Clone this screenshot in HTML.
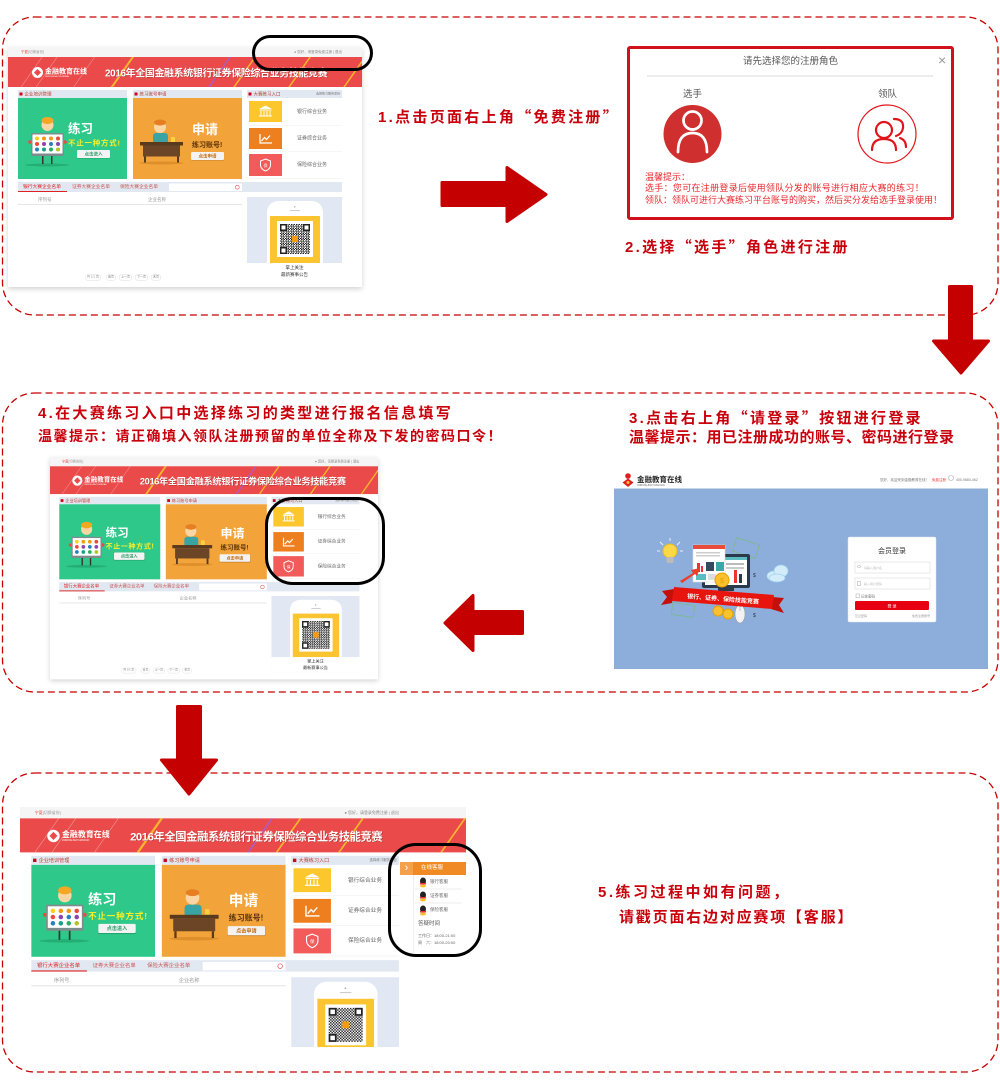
<!DOCTYPE html>
<html><head><meta charset="utf-8">
<style>
html,body{margin:0;padding:0;background:#fff;}
body{width:1000px;height:1080px;position:relative;overflow:hidden;font-family:"Liberation Sans","Noto Sans CJK SC",sans-serif;}
.abs{position:absolute;}
.tx{position:absolute;white-space:nowrap;line-height:1;}
.q{font-family:"Noto Sans CJK SC",sans-serif;}
.step{position:absolute;color:#c9000b;font-family:"Liberation Sans","Noto Sans CJK SC",sans-serif;font-weight:bold;white-space:nowrap;font-size:15px;line-height:18px;letter-spacing:2.3px;}
.mp{position:absolute;background:#fff;overflow:hidden;transform-origin:0 0;box-shadow:0 4px 10px rgba(0,0,0,.18);font-family:"Liberation Sans","Noto Sans CJK SC",sans-serif;}
.mp div{position:absolute;}
.mp i{font-style:normal;}
.mp b{position:absolute;left:3px;top:5px;width:6px;height:6px;background:#d0021b;}
.hd{top:86px;height:16px;background:#e1e8f2;font-size:9px;color:#c0392b;line-height:16px;padding-left:13px;box-sizing:border-box;white-space:nowrap;}
.st{top:-15px;width:1px;height:95px;background:rgba(255,255,255,.45);transform:rotate(35deg);}
.lb{left:548px;width:120px;text-align:center;font-size:10px;color:#666;}
.sep{left:482px;width:186px;height:1px;background:#eee;}
.fd{width:14px;height:14px;border:3px solid #222;background:#fff;box-sizing:border-box;}
.pg{top:455px;height:10px;border:1px solid #ddd;border-radius:5px;font-size:6px;color:#888;line-height:9px;padding:0 3px;white-space:nowrap;}
.bt{height:16px;background:#f3f3f3;border-radius:2px;font-size:9px;line-height:16px;text-align:center;font-weight:bold;box-shadow:0 1px 1px rgba(0,0,0,.2);}
</style></head><body>

<!-- dashed frames -->
<svg class="abs" style="left:0;top:0" width="1000" height="1080">
<g fill="none" stroke="#c80000" stroke-width="1.3" stroke-dasharray="7 4">
<rect x="2.5" y="17" width="995.5" height="298" rx="32"/>
<rect x="2.5" y="393" width="995.5" height="299" rx="32"/>
<rect x="2.5" y="773" width="995.5" height="299" rx="32"/>
</g>
</svg>

<!-- ============ MINI PAGE 1 ============ -->
<div class="mp" style="left:8px;top:47px;width:708px;height:480px;transform:scale(.5)">
<div style="left:0;top:0;width:100%;height:20px;background:#f5f5f5"></div>
<div class="tx" style="left:26px;top:7px;font-size:7px;color:#999"><i style="color:#e33">宁夏</i>[切换省份]</div>
<div class="tx" style="left:572px;top:7px;font-size:7px;color:#888">● 您好，请登录免费注册 | 退出</div>
<div style="left:0;top:20px;width:100%;height:60px;background:#eb4a4a;overflow:hidden">
 <div class="st" style="left:45px"></div><div class="st" style="left:75px"></div><div class="st" style="left:150px"></div>
 <div class="st" style="left:225px;background:#f7b52c;width:4px"></div>
 <div class="st" style="left:420px;background:#b05ac0;width:3px"></div>
 <div class="st" style="left:470px;background:#f7b52c;width:3px"></div>
 <div class="st" style="left:580px;background:#f7b52c;width:3px"></div>
 <div class="st" style="left:690px;background:#f7b52c;width:3px"></div>
 <div style="left:48px;top:20px;width:22px;height:22px;border-radius:50%;background:#fff"></div>
 <div style="left:54px;top:26px;width:10px;height:10px;background:#eb4a4a;transform:rotate(45deg)"></div>
 <div class="tx" style="left:74px;top:21px;font-size:14px;font-weight:bold;color:#fff">金融教育在线</div>
 <div class="tx" style="left:74px;top:37px;font-size:4px;color:#fff">JINRONGJIAOYUZAIXIAN</div>
 <div class="tx" style="left:194px;top:23px;font-size:20px;font-weight:bold;color:#fff;letter-spacing:-.8px;text-shadow:1px 1px 0 #b02a2a">2016年全国金融系统银行证券保险综合业务技能竞赛</div>
</div>
<div class="hd" style="left:20px;width:218px"><b></b>企业培训管理</div>
<div class="hd" style="left:250px;width:218px"><b></b>练习账号申请</div>
<div class="hd" style="left:478px;width:190px"><b></b>大赛练习入口<i style="position:absolute;right:4px;font-size:6px;color:#777">选择练习服务项目</i></div>
<div style="left:20px;top:102px;width:218px;height:162px;background:#2ec98a">
 <svg style="position:absolute;left:0;top:0" width="218" height="162">
  <ellipse cx="58" cy="134" rx="44" ry="3" fill="#25ad76"/>
  <rect x="48" y="114" width="3" height="18" fill="#333"/><rect x="66" y="114" width="3" height="18" fill="#333"/>
  <circle cx="59" cy="54" r="12" fill="#fcd5a5"/><ellipse cx="59" cy="45" rx="12" ry="7" fill="#f5a623"/>
  <circle cx="24" cy="88" r="3.5" fill="#e74c3c"/><circle cx="94" cy="88" r="3.5" fill="#e74c3c"/>
  <rect x="26" y="70" width="66" height="46" rx="3" fill="#7f8c8d"/><rect x="29" y="73" width="60" height="38" fill="#fff"/>
  <circle cx="38" cy="81" r="4" fill="#f7d21c"/><circle cx="52" cy="81" r="4" fill="#f39c12"/><circle cx="66" cy="81" r="4" fill="#f39c12"/><circle cx="80" cy="81" r="4" fill="#e74c3c"/>
  <circle cx="38" cy="92" r="4" fill="#e74c3c"/><circle cx="52" cy="92" r="4" fill="#8e44ad"/><circle cx="66" cy="92" r="4" fill="#2980b9"/><circle cx="80" cy="92" r="4" fill="#8e44ad"/>
  <circle cx="38" cy="103" r="4" fill="#2980b9"/><circle cx="52" cy="103" r="4" fill="#16a085"/><circle cx="66" cy="103" r="4" fill="#27ae60"/><circle cx="80" cy="103" r="4" fill="#b5c42a"/>
 </svg>
 <div class="tx" style="left:100px;top:50px;font-size:25px;font-weight:bold;color:#fff">练习</div>
 <div class="tx" style="left:100px;top:83px;font-size:15px;font-weight:bold;color:#f7ee2a;letter-spacing:1.5px">不止一种方式!</div>
 <div class="bt" style="left:118px;top:104px;width:66px;color:#2a9d6a">点击进入</div>
</div>
<div style="left:250px;top:102px;width:218px;height:162px;background:#f2a33a">
 <svg style="position:absolute;left:0;top:0" width="218" height="162">
  <ellipse cx="57" cy="130" rx="44" ry="3" fill="#dd8f2a"/>
  <rect x="40" y="70" width="30" height="22" rx="6" fill="#3aa3a3"/>
  <circle cx="54" cy="58" r="12" fill="#fcd5a5"/><ellipse cx="54" cy="49" rx="12" ry="6" fill="#e67e22"/>
  <rect x="76" y="78" width="8" height="10" fill="#f7d23a"/>
  <rect x="14" y="88" width="86" height="7" fill="#5a3a1e"/><rect x="20" y="95" width="74" height="22" fill="#6b4526"/>
  <rect x="22" y="117" width="4" height="12" fill="#5a3a1e"/><rect x="88" y="117" width="4" height="12" fill="#5a3a1e"/>
 </svg>
 <div class="tx" style="left:118px;top:50px;font-size:26px;font-weight:bold;color:#fff">申请</div>
 <div class="tx" style="left:118px;top:86px;font-size:14px;font-weight:bold;color:#5a320a">练习账号!</div>
 <div class="bt" style="left:116px;top:108px;width:66px;color:#c06a10">点击申请</div>
</div>
<div style="left:482px;top:108px;width:66px;height:42px;background:#fcc72c">
 <svg style="position:absolute;left:0;top:0" width="66" height="42"><polygon points="20,16 33,9 46,16" fill="#fff"/><rect x="21" y="17" width="24" height="2" fill="#fff"/><rect x="23" y="20" width="2" height="9" fill="#fff"/><rect x="29" y="20" width="2" height="9" fill="#fff"/><rect x="35" y="20" width="2" height="9" fill="#fff"/><rect x="41" y="20" width="2" height="9" fill="#fff"/><rect x="20" y="29" width="26" height="2" fill="#fff"/></svg>
</div>
<div style="left:482px;top:162px;width:66px;height:42px;background:#ee7f1f">
 <svg style="position:absolute;left:0;top:0" width="66" height="42"><polyline points="22,12 22,30 46,30" fill="none" stroke="#fff" stroke-width="2.5"/><polyline points="25,26 31,19 35,23 42,15" fill="none" stroke="#fff" stroke-width="2.5"/></svg>
</div>
<div style="left:482px;top:214px;width:66px;height:44px;background:#f35a5a">
 <svg style="position:absolute;left:0;top:0" width="66" height="44"><path d="M33,10 L43,14 L43,22 Q43,30 33,34 Q23,30 23,22 L23,14 Z" fill="none" stroke="#fff" stroke-width="2"/><text x="33" y="26" font-size="8" fill="#fff" text-anchor="middle">保</text></svg>
</div>
<div class="tx lb" style="top:125px">银行综合业务</div>
<div class="tx lb" style="top:178px">证券综合业务</div>
<div class="tx lb" style="top:231px">保险综合业务</div>
<div class="sep" style="top:156px"></div><div class="sep" style="top:208px"></div><div class="sep" style="top:262px"></div>
<div style="left:20px;top:270px;width:648px;height:20px;background:#e1e8f2"></div>
<div class="tx" style="left:30px;top:275px;font-size:9.5px;color:#d22">银行大赛企业名单</div>
<div style="left:20px;top:288px;width:98px;height:2px;background:#d22"></div>
<div class="tx" style="left:128px;top:275px;font-size:9.5px;color:#c55">证券大赛企业名单</div>
<div class="tx" style="left:224px;top:275px;font-size:9.5px;color:#c55">保险大赛企业名单</div>
<div style="left:322px;top:273px;width:146px;height:15px;background:#fff"></div>
<div style="left:454px;top:276px;width:7px;height:7px;border:1.5px solid #d22;border-radius:50%"></div>
<div class="tx" style="left:60px;top:301px;font-size:9px;color:#999">序列号</div>
<div class="tx" style="left:280px;top:301px;font-size:9px;color:#999">企业名称</div>
<div style="left:20px;top:314px;width:448px;height:2px;background:#e6e6e6"></div>
<div style="left:478px;top:300px;width:190px;height:166px;background:#e1e8f3"></div>
<div style="left:518px;top:308px;width:112px;height:124px;background:#fff;border-radius:22px 22px 0 0"></div>
<div style="left:572px;top:318px;width:3px;height:3px;border-radius:50%;background:#aaa"></div>
<div style="left:564px;top:326px;width:20px;height:2px;background:#ccc"></div>
<div style="left:524px;top:338px;width:100px;height:94px;background:#fbc531"></div>
<div style="left:538px;top:348px;width:72px;height:72px;background:#fff"></div>
<div style="left:544px;top:354px;width:60px;height:60px;background:repeating-conic-gradient(#222 0 25%,#fff 0 50%) 0 0/5px 5px"></div>
<div class="fd" style="left:544px;top:354px"></div><div class="fd" style="left:590px;top:354px"></div><div class="fd" style="left:544px;top:400px"></div>
<div style="left:568px;top:378px;width:12px;height:12px;background:#f39c12"></div>
<div style="left:478px;top:432px;width:190px;height:34px;background:#fff"></div>
<div class="tx" style="left:478px;width:190px;text-align:center;top:437px;font-size:9px;color:#333">掌上关注</div>
<div class="tx" style="left:478px;width:190px;text-align:center;top:451px;font-size:9px;color:#333">最新赛事公告</div>
<div class="pg" style="left:154px">共 1/1 页</div><div class="pg" style="left:196px">首页</div><div class="pg" style="left:222px">上一页</div><div class="pg" style="left:254px">下一页</div><div class="pg" style="left:286px">末页</div>
</div>

<!-- black marker 1 -->
<div class="abs" style="left:252px;top:35px;width:121px;height:36px;box-sizing:border-box;border:3px solid #000;border-radius:18px"></div>

<!-- step 1 -->
<div class="step" style="left:378px;top:108px">1.点击页面右上角<span class="q">“</span>免费注册<span class="q">”</span></div>

<!-- dialog -->
<div class="abs" style="left:627px;top:46px;width:327px;height:174px;box-sizing:border-box;border:3px solid #d0101a;border-radius:3px;background:#fff"></div>
<div class="tx" style="left:627px;width:327px;text-align:center;top:57px;font-size:9.5px;color:#555">请先选择您的注册角色</div>
<div class="tx" style="left:938px;top:53px;font-size:14px;color:#999">×</div>
<div class="abs" style="left:647px;top:75px;width:286px;height:1.5px;background:#ececec"></div>
<div class="tx" style="left:683px;top:90px;font-size:9.5px;color:#555">选手</div>
<div class="tx" style="left:878px;top:90px;font-size:9.5px;color:#555">领队</div>
<svg class="abs" style="left:600px;top:90px" width="360" height="90">
 <circle cx="92.5" cy="44" r="29" fill="#cf2f2f"/>
 <circle cx="92.5" cy="30.5" r="9" fill="none" stroke="#fff" stroke-width="2.7"/>
 <path d="M78,62 Q78,43 92.5,43 Q107,43 107,62" fill="none" stroke="#fff" stroke-width="2.7" stroke-linecap="round"/>
 <circle cx="287" cy="44" r="29" fill="none" stroke="#e0151c" stroke-width="1.2"/>
 <circle cx="284" cy="40" r="8" fill="none" stroke="#e0151c" stroke-width="2.2"/>
 <path d="M272,60 Q272,49 284,49 Q296,49 296,60" fill="none" stroke="#e0151c" stroke-width="2.2" stroke-linecap="round"/>
 <path d="M294,29 Q304,29 303,38 Q302,44 296,46" fill="none" stroke="#e0151c" stroke-width="2.2" stroke-linecap="round"/>
 <path d="M300,48 Q306,50 306,57" fill="none" stroke="#e0151c" stroke-width="2.2" stroke-linecap="round"/>
</svg>
<div class="tx" style="left:645px;top:173px;font-size:9px;color:#e8282d">温馨提示：</div>
<div class="tx" style="left:645px;top:184px;font-size:9px;color:#e8282d;letter-spacing:.3px">选手：您可在注册登录后使用领队分发的账号进行相应大赛的练习！</div>
<div class="tx" style="left:645px;top:196px;font-size:9px;color:#e8282d">领队：领队可进行大赛练习平台账号的购买，然后买分发给选手登录使用！</div>

<!-- step 2 -->
<div class="step" style="left:625px;top:238px">2.选择<span class="q">“</span>选手<span class="q">”</span>角色进行注册</div>

<!-- step 4 text -->
<div class="step" style="left:38px;top:405px">4.在大赛练习入口中选择练习的类型进行报名信息填写</div>
<div class="step" style="left:38px;top:427px;font-size:14px;letter-spacing:1.5px">温馨提示：请正确填入领队注册预留的单位全称及下发的密码口令！</div>

<!-- step 3 text -->
<div class="step" style="left:629px;top:409px">3.点击右上角<span class="q">“</span>请登录<span class="q">”</span>按钮进行登录</div>
<div class="step" style="left:629px;top:429px;letter-spacing:.5px">温馨提示：用已注册成功的账号、密码进行登录</div>

<!-- ============ MINI PAGE 2 ============ -->
<div class="mp" style="left:50px;top:457px;width:708px;height:480px;transform:scale(.4633)">
<div style="left:0;top:0;width:100%;height:20px;background:#f5f5f5"></div>
<div class="tx" style="left:26px;top:7px;font-size:7px;color:#999"><i style="color:#e33">宁夏</i>[切换省份]</div>
<div class="tx" style="left:572px;top:7px;font-size:7px;color:#888">● 您好，请登录免费注册 | 退出</div>
<div style="left:0;top:20px;width:100%;height:60px;background:#eb4a4a;overflow:hidden">
 <div class="st" style="left:45px"></div><div class="st" style="left:75px"></div><div class="st" style="left:150px"></div>
 <div class="st" style="left:225px;background:#f7b52c;width:4px"></div>
 <div class="st" style="left:420px;background:#b05ac0;width:3px"></div>
 <div class="st" style="left:470px;background:#f7b52c;width:3px"></div>
 <div class="st" style="left:580px;background:#f7b52c;width:3px"></div>
 <div class="st" style="left:690px;background:#f7b52c;width:3px"></div>
 <div style="left:48px;top:20px;width:22px;height:22px;border-radius:50%;background:#fff"></div>
 <div style="left:54px;top:26px;width:10px;height:10px;background:#eb4a4a;transform:rotate(45deg)"></div>
 <div class="tx" style="left:74px;top:21px;font-size:14px;font-weight:bold;color:#fff">金融教育在线</div>
 <div class="tx" style="left:74px;top:37px;font-size:4px;color:#fff">JINRONGJIAOYUZAIXIAN</div>
 <div class="tx" style="left:194px;top:23px;font-size:20px;font-weight:bold;color:#fff;letter-spacing:-.8px;text-shadow:1px 1px 0 #b02a2a">2016年全国金融系统银行证券保险综合业务技能竞赛</div>
</div>
<div class="hd" style="left:20px;width:218px"><b></b>企业培训管理</div>
<div class="hd" style="left:250px;width:218px"><b></b>练习账号申请</div>
<div class="hd" style="left:478px;width:190px"><b></b>大赛练习入口<i style="position:absolute;right:4px;font-size:6px;color:#777">选择练习服务项目</i></div>
<div style="left:20px;top:102px;width:218px;height:162px;background:#2ec98a">
 <svg style="position:absolute;left:0;top:0" width="218" height="162">
  <ellipse cx="58" cy="134" rx="44" ry="3" fill="#25ad76"/>
  <rect x="48" y="114" width="3" height="18" fill="#333"/><rect x="66" y="114" width="3" height="18" fill="#333"/>
  <circle cx="59" cy="54" r="12" fill="#fcd5a5"/><ellipse cx="59" cy="45" rx="12" ry="7" fill="#f5a623"/>
  <circle cx="24" cy="88" r="3.5" fill="#e74c3c"/><circle cx="94" cy="88" r="3.5" fill="#e74c3c"/>
  <rect x="26" y="70" width="66" height="46" rx="3" fill="#7f8c8d"/><rect x="29" y="73" width="60" height="38" fill="#fff"/>
  <circle cx="38" cy="81" r="4" fill="#f7d21c"/><circle cx="52" cy="81" r="4" fill="#f39c12"/><circle cx="66" cy="81" r="4" fill="#f39c12"/><circle cx="80" cy="81" r="4" fill="#e74c3c"/>
  <circle cx="38" cy="92" r="4" fill="#e74c3c"/><circle cx="52" cy="92" r="4" fill="#8e44ad"/><circle cx="66" cy="92" r="4" fill="#2980b9"/><circle cx="80" cy="92" r="4" fill="#8e44ad"/>
  <circle cx="38" cy="103" r="4" fill="#2980b9"/><circle cx="52" cy="103" r="4" fill="#16a085"/><circle cx="66" cy="103" r="4" fill="#27ae60"/><circle cx="80" cy="103" r="4" fill="#b5c42a"/>
 </svg>
 <div class="tx" style="left:100px;top:50px;font-size:25px;font-weight:bold;color:#fff">练习</div>
 <div class="tx" style="left:100px;top:83px;font-size:15px;font-weight:bold;color:#f7ee2a;letter-spacing:1.5px">不止一种方式!</div>
 <div class="bt" style="left:118px;top:104px;width:66px;color:#2a9d6a">点击进入</div>
</div>
<div style="left:250px;top:102px;width:218px;height:162px;background:#f2a33a">
 <svg style="position:absolute;left:0;top:0" width="218" height="162">
  <ellipse cx="57" cy="130" rx="44" ry="3" fill="#dd8f2a"/>
  <rect x="40" y="70" width="30" height="22" rx="6" fill="#3aa3a3"/>
  <circle cx="54" cy="58" r="12" fill="#fcd5a5"/><ellipse cx="54" cy="49" rx="12" ry="6" fill="#e67e22"/>
  <rect x="76" y="78" width="8" height="10" fill="#f7d23a"/>
  <rect x="14" y="88" width="86" height="7" fill="#5a3a1e"/><rect x="20" y="95" width="74" height="22" fill="#6b4526"/>
  <rect x="22" y="117" width="4" height="12" fill="#5a3a1e"/><rect x="88" y="117" width="4" height="12" fill="#5a3a1e"/>
 </svg>
 <div class="tx" style="left:118px;top:50px;font-size:26px;font-weight:bold;color:#fff">申请</div>
 <div class="tx" style="left:118px;top:86px;font-size:14px;font-weight:bold;color:#5a320a">练习账号!</div>
 <div class="bt" style="left:116px;top:108px;width:66px;color:#c06a10">点击申请</div>
</div>
<div style="left:482px;top:108px;width:66px;height:42px;background:#fcc72c">
 <svg style="position:absolute;left:0;top:0" width="66" height="42"><polygon points="20,16 33,9 46,16" fill="#fff"/><rect x="21" y="17" width="24" height="2" fill="#fff"/><rect x="23" y="20" width="2" height="9" fill="#fff"/><rect x="29" y="20" width="2" height="9" fill="#fff"/><rect x="35" y="20" width="2" height="9" fill="#fff"/><rect x="41" y="20" width="2" height="9" fill="#fff"/><rect x="20" y="29" width="26" height="2" fill="#fff"/></svg>
</div>
<div style="left:482px;top:162px;width:66px;height:42px;background:#ee7f1f">
 <svg style="position:absolute;left:0;top:0" width="66" height="42"><polyline points="22,12 22,30 46,30" fill="none" stroke="#fff" stroke-width="2.5"/><polyline points="25,26 31,19 35,23 42,15" fill="none" stroke="#fff" stroke-width="2.5"/></svg>
</div>
<div style="left:482px;top:214px;width:66px;height:44px;background:#f35a5a">
 <svg style="position:absolute;left:0;top:0" width="66" height="44"><path d="M33,10 L43,14 L43,22 Q43,30 33,34 Q23,30 23,22 L23,14 Z" fill="none" stroke="#fff" stroke-width="2"/><text x="33" y="26" font-size="8" fill="#fff" text-anchor="middle">保</text></svg>
</div>
<div class="tx lb" style="top:125px">银行综合业务</div>
<div class="tx lb" style="top:178px">证券综合业务</div>
<div class="tx lb" style="top:231px">保险综合业务</div>
<div class="sep" style="top:156px"></div><div class="sep" style="top:208px"></div><div class="sep" style="top:262px"></div>
<div style="left:20px;top:270px;width:648px;height:20px;background:#e1e8f2"></div>
<div class="tx" style="left:30px;top:275px;font-size:9.5px;color:#d22">银行大赛企业名单</div>
<div style="left:20px;top:288px;width:98px;height:2px;background:#d22"></div>
<div class="tx" style="left:128px;top:275px;font-size:9.5px;color:#c55">证券大赛企业名单</div>
<div class="tx" style="left:224px;top:275px;font-size:9.5px;color:#c55">保险大赛企业名单</div>
<div style="left:322px;top:273px;width:146px;height:15px;background:#fff"></div>
<div style="left:454px;top:276px;width:7px;height:7px;border:1.5px solid #d22;border-radius:50%"></div>
<div class="tx" style="left:60px;top:301px;font-size:9px;color:#999">序列号</div>
<div class="tx" style="left:280px;top:301px;font-size:9px;color:#999">企业名称</div>
<div style="left:20px;top:314px;width:448px;height:2px;background:#e6e6e6"></div>
<div style="left:478px;top:300px;width:190px;height:166px;background:#e1e8f3"></div>
<div style="left:518px;top:308px;width:112px;height:124px;background:#fff;border-radius:22px 22px 0 0"></div>
<div style="left:572px;top:318px;width:3px;height:3px;border-radius:50%;background:#aaa"></div>
<div style="left:564px;top:326px;width:20px;height:2px;background:#ccc"></div>
<div style="left:524px;top:338px;width:100px;height:94px;background:#fbc531"></div>
<div style="left:538px;top:348px;width:72px;height:72px;background:#fff"></div>
<div style="left:544px;top:354px;width:60px;height:60px;background:repeating-conic-gradient(#222 0 25%,#fff 0 50%) 0 0/5px 5px"></div>
<div class="fd" style="left:544px;top:354px"></div><div class="fd" style="left:590px;top:354px"></div><div class="fd" style="left:544px;top:400px"></div>
<div style="left:568px;top:378px;width:12px;height:12px;background:#f39c12"></div>
<div style="left:478px;top:432px;width:190px;height:34px;background:#fff"></div>
<div class="tx" style="left:478px;width:190px;text-align:center;top:437px;font-size:9px;color:#333">掌上关注</div>
<div class="tx" style="left:478px;width:190px;text-align:center;top:451px;font-size:9px;color:#333">最新赛事公告</div>
<div class="pg" style="left:154px">共 1/1 页</div><div class="pg" style="left:196px">首页</div><div class="pg" style="left:222px">上一页</div><div class="pg" style="left:254px">下一页</div><div class="pg" style="left:286px">末页</div>
</div>

<!-- black marker 2 -->
<div class="abs" style="left:265px;top:497px;width:120px;height:88px;box-sizing:border-box;border:3px solid #000;border-radius:28px"></div>

<!-- login screenshot -->
<svg class="abs" style="left:614px;top:468px" width="374" height="201" viewBox="0 0 374 201" font-family="Liberation Sans, Noto Sans CJK SC, sans-serif">
<rect width="374" height="20" fill="#fff"/>
<rect y="20" width="374" height="181" fill="#8daedb"/>
<line x1="0" y1="20.5" x2="374" y2="20.5" stroke="#c9d6e8"/>
<circle cx="14" cy="8" r="2.8" fill="#e02020"/>
<path d="M14,10.5 L19.5,14.5 L14,19 L8.5,14.5 Z" fill="#e02020"/>
<circle cx="14" cy="14.5" r="1.5" fill="#f6c12d"/>
<text x="23" y="14" font-size="7.5" font-weight="bold" fill="#222">金融教育在线</text>
<text x="23" y="18" font-size="2.3" fill="#666">JINRONGJIAOYUZAIXIAN</text>
<text x="266" y="13" font-size="3.5" fill="#777">您好，欢迎来到金融教育在线！</text>
<text x="318" y="13" font-size="3.5" fill="#e33">免费注册</text>
<circle cx="337" cy="10" r="2.5" fill="none" stroke="#aaa" stroke-width=".6"/>
<text x="342" y="13" font-size="3.5" fill="#777">400-9680-062</text>
<!-- illustration -->
<g stroke="#fff" stroke-width="1" opacity=".8"><line x1="46" y1="74" x2="49" y2="77"/><line x1="56" y1="70" x2="56" y2="73"/><line x1="66" y1="74" x2="63" y2="77"/><line x1="43" y1="83" x2="46" y2="83"/><line x1="69" y1="83" x2="66" y2="83"/></g>
<circle cx="56" cy="83" r="7" fill="#fcd846" stroke="#e8b923"/>
<rect x="52.5" y="89" width="7" height="6" rx="1" fill="#bbb"/>
<rect x="120" y="73" width="24" height="14" fill="none" stroke="#7cb88a" stroke-width=".8" transform="rotate(18 132 80)"/>
<rect x="88" y="86" width="48" height="34" rx="2" fill="#2b3a4a"/>
<rect x="91" y="89" width="42" height="28" fill="#fff"/>
<rect x="91" y="89" width="42" height="3" fill="#5bbdc0"/>
<rect x="112" y="95" width="18" height="2" fill="#bbb"/><rect x="112" y="99" width="18" height="2" fill="#ccc"/>
<rect x="120" y="102" width="3" height="13" fill="#e33"/><rect x="125" y="106" width="3" height="9" fill="#2b3a4a"/>
<rect x="104" y="120" width="16" height="3" fill="#2b3a4a"/>
<rect x="79" y="77" width="32" height="37" fill="#fff" stroke="#ddd" stroke-width=".6"/>
<rect x="79" y="77" width="32" height="4" fill="#e74c3c"/>
<rect x="82" y="84" width="24" height="1.5" fill="#ccc"/><rect x="82" y="87" width="24" height="1.5" fill="#ccc"/>
<rect x="83" y="95" width="3" height="9" fill="#e33"/><rect x="87" y="98" width="2" height="6" fill="#e33"/>
<rect x="92" y="94" width="8" height="9" fill="#34495e"/><rect x="102" y="94" width="8" height="9" fill="#3aa8a8"/>
<rect x="82" y="106" width="10" height="6" fill="#5bbdc0"/><rect x="94" y="106" width="8" height="6" fill="#ddd"/>
<polygon points="66,113 79,105 77,102 86,100 83,108 81,106 68,115" fill="#e8402a"/>
<circle cx="108" cy="112" r="7" fill="#f9c12e" stroke="#e6a100"/>
<text x="108" y="115" font-size="7" fill="#e6a100" text-anchor="middle">$</text>
<rect x="58" y="136" width="22" height="12" fill="none" stroke="#7cb88a" stroke-width=".8" transform="rotate(8 69 142)"/>
<circle cx="104" cy="143" r="5" fill="#f9c12e" stroke="#e6a100"/>
<circle cx="114" cy="146" r="5" fill="#f9c12e" stroke="#e6a100"/>
<ellipse cx="126" cy="146" rx="5" ry="9" fill="#f2f2f2" stroke="#999" stroke-width=".6"/>
<line x1="126" y1="137" x2="126" y2="143" stroke="#999" stroke-width=".6"/>
<path d="M60,121 L48,123 L53,129 L47,137 L58,135 Z" fill="#c40f0a"/>
<path d="M158,129 L170,130 L165,137 L170,145 L157,141 Z" fill="#c40f0a"/>
<path d="M60,119 L160,127 L158,141 L58,133 Z" fill="#e8150f"/>
<text x="109" y="133" font-size="6" font-weight="bold" fill="#fff" text-anchor="middle" transform="rotate(4.5 109 131)">银行、证券、保险技能竞赛</text>
<text x="139" y="109" font-size="5" fill="#2b3a4a">$</text>
<text x="139" y="149" font-size="5" fill="#2b3a4a">$</text>
<g fill="#d2ecf9" stroke="#9fd0ee" stroke-width=".7">
<ellipse cx="160" cy="108" rx="7" ry="5"/><ellipse cx="167" cy="103" rx="7" ry="6"/><ellipse cx="163" cy="110" rx="8" ry="4"/></g>
<!-- login card -->
<rect x="234" y="69" width="88" height="85" rx="1.5" fill="#fff" stroke="#d8e2ef" stroke-width=".5"/>
<text x="278" y="85" font-size="7" fill="#333" text-anchor="middle">会员登录</text>
<rect x="241" y="94" width="75" height="11" fill="#fff" stroke="#ddd" stroke-width=".6"/>
<rect x="241" y="110" width="75" height="11" fill="#fff" stroke="#ddd" stroke-width=".6"/>
<circle cx="245" cy="98.5" r="1.4" fill="none" stroke="#aaa" stroke-width=".5"/>
<rect x="243.5" y="113.5" width="3" height="4" fill="none" stroke="#aaa" stroke-width=".5"/>
<text x="250" y="101" font-size="3" fill="#bbb">请输入用户名</text>
<text x="250" y="117" font-size="3" fill="#bbb">输入用户密码</text>
<rect x="242" y="126" width="3.5" height="3.5" fill="#fff" stroke="#aaa" stroke-width=".5"/>
<text x="247" y="129.5" font-size="3.5" fill="#666">记住密码</text>
<rect x="241" y="133" width="74" height="9" rx="1" fill="#e60012"/>
<text x="278" y="139.5" font-size="4" fill="#fff" text-anchor="middle">登 录</text>
<text x="241" y="149" font-size="3" fill="#999">忘记密码</text>
<text x="316" y="149" font-size="3" fill="#999" text-anchor="end">免费注册账号</text>
</svg>

<!-- ============ MINI PAGE 3 ============ -->
<div class="mp" style="left:20px;top:807px;width:786px;height:423px;transform:scale(.5674);box-shadow:none">
<div style="left:0;top:0;width:100%;height:20px;background:#f5f5f5"></div>
<div class="tx" style="left:26px;top:7px;font-size:7px;color:#999"><i style="color:#e33">宁夏</i>[切换省份]</div>
<div class="tx" style="left:572px;top:7px;font-size:7px;color:#888">● 您好，请登录免费注册 | 退出</div>
<div style="left:0;top:20px;width:100%;height:60px;background:#eb4a4a;overflow:hidden">
 <div class="st" style="left:45px"></div><div class="st" style="left:75px"></div><div class="st" style="left:150px"></div>
 <div class="st" style="left:225px;background:#f7b52c;width:4px"></div>
 <div class="st" style="left:420px;background:#b05ac0;width:3px"></div>
 <div class="st" style="left:470px;background:#f7b52c;width:3px"></div>
 <div class="st" style="left:580px;background:#f7b52c;width:3px"></div>
 <div class="st" style="left:760px;background:#f7b52c;width:3px"></div>
 <div style="left:48px;top:20px;width:22px;height:22px;border-radius:50%;background:#fff"></div>
 <div style="left:54px;top:26px;width:10px;height:10px;background:#eb4a4a;transform:rotate(45deg)"></div>
 <div class="tx" style="left:74px;top:21px;font-size:14px;font-weight:bold;color:#fff">金融教育在线</div>
 <div class="tx" style="left:74px;top:37px;font-size:4px;color:#fff">JINRONGJIAOYUZAIXIAN</div>
 <div class="tx" style="left:194px;top:23px;font-size:20px;font-weight:bold;color:#fff;letter-spacing:-.8px;text-shadow:1px 1px 0 #b02a2a">2016年全国金融系统银行证券保险综合业务技能竞赛</div>
</div>
<div class="hd" style="left:20px;width:218px"><b></b>企业培训管理</div>
<div class="hd" style="left:250px;width:218px"><b></b>练习账号申请</div>
<div class="hd" style="left:478px;width:190px"><b></b>大赛练习入口<i style="position:absolute;right:4px;font-size:6px;color:#777">选择练习服务项目</i></div>
<div style="left:20px;top:102px;width:218px;height:162px;background:#2ec98a">
 <svg style="position:absolute;left:0;top:0" width="218" height="162">
  <ellipse cx="58" cy="134" rx="44" ry="3" fill="#25ad76"/>
  <rect x="48" y="114" width="3" height="18" fill="#333"/><rect x="66" y="114" width="3" height="18" fill="#333"/>
  <circle cx="59" cy="54" r="12" fill="#fcd5a5"/><ellipse cx="59" cy="45" rx="12" ry="7" fill="#f5a623"/>
  <circle cx="24" cy="88" r="3.5" fill="#e74c3c"/><circle cx="94" cy="88" r="3.5" fill="#e74c3c"/>
  <rect x="26" y="70" width="66" height="46" rx="3" fill="#7f8c8d"/><rect x="29" y="73" width="60" height="38" fill="#fff"/>
  <circle cx="38" cy="81" r="4" fill="#f7d21c"/><circle cx="52" cy="81" r="4" fill="#f39c12"/><circle cx="66" cy="81" r="4" fill="#f39c12"/><circle cx="80" cy="81" r="4" fill="#e74c3c"/>
  <circle cx="38" cy="92" r="4" fill="#e74c3c"/><circle cx="52" cy="92" r="4" fill="#8e44ad"/><circle cx="66" cy="92" r="4" fill="#2980b9"/><circle cx="80" cy="92" r="4" fill="#8e44ad"/>
  <circle cx="38" cy="103" r="4" fill="#2980b9"/><circle cx="52" cy="103" r="4" fill="#16a085"/><circle cx="66" cy="103" r="4" fill="#27ae60"/><circle cx="80" cy="103" r="4" fill="#b5c42a"/>
 </svg>
 <div class="tx" style="left:100px;top:50px;font-size:25px;font-weight:bold;color:#fff">练习</div>
 <div class="tx" style="left:100px;top:83px;font-size:15px;font-weight:bold;color:#f7ee2a;letter-spacing:1.5px">不止一种方式!</div>
 <div class="bt" style="left:118px;top:104px;width:66px;color:#2a9d6a">点击进入</div>
</div>
<div style="left:250px;top:102px;width:218px;height:162px;background:#f2a33a">
 <svg style="position:absolute;left:0;top:0" width="218" height="162">
  <ellipse cx="57" cy="130" rx="44" ry="3" fill="#dd8f2a"/>
  <rect x="40" y="70" width="30" height="22" rx="6" fill="#3aa3a3"/>
  <circle cx="54" cy="58" r="12" fill="#fcd5a5"/><ellipse cx="54" cy="49" rx="12" ry="6" fill="#e67e22"/>
  <rect x="76" y="78" width="8" height="10" fill="#f7d23a"/>
  <rect x="14" y="88" width="86" height="7" fill="#5a3a1e"/><rect x="20" y="95" width="74" height="22" fill="#6b4526"/>
  <rect x="22" y="117" width="4" height="12" fill="#5a3a1e"/><rect x="88" y="117" width="4" height="12" fill="#5a3a1e"/>
 </svg>
 <div class="tx" style="left:118px;top:50px;font-size:26px;font-weight:bold;color:#fff">申请</div>
 <div class="tx" style="left:118px;top:86px;font-size:14px;font-weight:bold;color:#5a320a">练习账号!</div>
 <div class="bt" style="left:116px;top:108px;width:66px;color:#c06a10">点击申请</div>
</div>
<div style="left:482px;top:108px;width:66px;height:42px;background:#fcc72c">
 <svg style="position:absolute;left:0;top:0" width="66" height="42"><polygon points="20,16 33,9 46,16" fill="#fff"/><rect x="21" y="17" width="24" height="2" fill="#fff"/><rect x="23" y="20" width="2" height="9" fill="#fff"/><rect x="29" y="20" width="2" height="9" fill="#fff"/><rect x="35" y="20" width="2" height="9" fill="#fff"/><rect x="41" y="20" width="2" height="9" fill="#fff"/><rect x="20" y="29" width="26" height="2" fill="#fff"/></svg>
</div>
<div style="left:482px;top:162px;width:66px;height:42px;background:#ee7f1f">
 <svg style="position:absolute;left:0;top:0" width="66" height="42"><polyline points="22,12 22,30 46,30" fill="none" stroke="#fff" stroke-width="2.5"/><polyline points="25,26 31,19 35,23 42,15" fill="none" stroke="#fff" stroke-width="2.5"/></svg>
</div>
<div style="left:482px;top:214px;width:66px;height:44px;background:#f35a5a">
 <svg style="position:absolute;left:0;top:0" width="66" height="44"><path d="M33,10 L43,14 L43,22 Q43,30 33,34 Q23,30 23,22 L23,14 Z" fill="none" stroke="#fff" stroke-width="2"/><text x="33" y="26" font-size="8" fill="#fff" text-anchor="middle">保</text></svg>
</div>
<div class="tx lb" style="top:125px">银行综合业务</div>
<div class="tx lb" style="top:178px">证券综合业务</div>
<div class="tx lb" style="top:231px">保险综合业务</div>
<div class="sep" style="top:156px"></div><div class="sep" style="top:208px"></div><div class="sep" style="top:262px"></div>
<div style="left:20px;top:270px;width:648px;height:20px;background:#e1e8f2"></div>
<div class="tx" style="left:30px;top:275px;font-size:9.5px;color:#d22">银行大赛企业名单</div>
<div style="left:20px;top:288px;width:98px;height:2px;background:#d22"></div>
<div class="tx" style="left:128px;top:275px;font-size:9.5px;color:#c55">证券大赛企业名单</div>
<div class="tx" style="left:224px;top:275px;font-size:9.5px;color:#c55">保险大赛企业名单</div>
<div style="left:322px;top:273px;width:146px;height:15px;background:#fff"></div>
<div style="left:454px;top:276px;width:7px;height:7px;border:1.5px solid #d22;border-radius:50%"></div>
<div class="tx" style="left:60px;top:301px;font-size:9px;color:#999">序列号</div>
<div class="tx" style="left:280px;top:301px;font-size:9px;color:#999">企业名称</div>
<div style="left:20px;top:314px;width:448px;height:2px;background:#e6e6e6"></div>
<div style="left:478px;top:300px;width:190px;height:166px;background:#e1e8f3"></div>
<div style="left:518px;top:308px;width:112px;height:124px;background:#fff;border-radius:22px 22px 0 0"></div>
<div style="left:572px;top:318px;width:3px;height:3px;border-radius:50%;background:#aaa"></div>
<div style="left:564px;top:326px;width:20px;height:2px;background:#ccc"></div>
<div style="left:524px;top:338px;width:100px;height:94px;background:#fbc531"></div>
<div style="left:538px;top:348px;width:72px;height:72px;background:#fff"></div>
<div style="left:544px;top:354px;width:60px;height:60px;background:repeating-conic-gradient(#222 0 25%,#fff 0 50%) 0 0/5px 5px"></div>
<div class="fd" style="left:544px;top:354px"></div><div class="fd" style="left:590px;top:354px"></div><div class="fd" style="left:544px;top:400px"></div>
<div style="left:568px;top:378px;width:12px;height:12px;background:#f39c12"></div>
</div>

<!-- customer service panel (page 3) -->
<div class="abs" style="left:400px;top:862px;width:66px;height:93px;background:#fff"></div>
<div class="abs" style="left:400px;top:862px;width:66px;height:13px;background:#f08a24"></div>
<div class="abs" style="left:400px;top:862px;width:13px;height:13px;background:#f5a04a;color:#fff;font-size:11px;line-height:12px;text-align:center">›</div>
<div class="tx" style="left:421px;top:866px;font-size:5.5px;color:#fff">在线客服</div>
<div class="abs" style="left:413px;top:875px;width:1px;height:78px;background:#eee"></div>
<svg class="abs" style="left:415px;top:876px" width="50" height="44">
 <g><ellipse cx="8" cy="5" rx="3" ry="3.5" fill="#222"/><rect x="5" y="7" width="6" height="1.5" fill="#e33"/><ellipse cx="8" cy="10" rx="3" ry="1.5" fill="#f6c12d"/></g>
 <g transform="translate(0,14)"><ellipse cx="8" cy="5" rx="3" ry="3.5" fill="#222"/><rect x="5" y="7" width="6" height="1.5" fill="#e33"/><ellipse cx="8" cy="10" rx="3" ry="1.5" fill="#f6c12d"/></g>
 <g transform="translate(0,28)"><ellipse cx="8" cy="5" rx="3" ry="3.5" fill="#222"/><rect x="5" y="7" width="6" height="1.5" fill="#e33"/><ellipse cx="8" cy="10" rx="3" ry="1.5" fill="#f6c12d"/></g>
 <line x1="0" y1="13" x2="47" y2="13" stroke="#eee"/><line x1="0" y1="27" x2="47" y2="27" stroke="#eee"/>
</svg>
<div class="tx" style="left:430px;top:880px;font-size:4.5px;color:#666">银行客服</div>
<div class="tx" style="left:430px;top:894px;font-size:4.5px;color:#666">证券客服</div>
<div class="tx" style="left:430px;top:908px;font-size:4.5px;color:#666">保险客服</div>
<div class="tx" style="left:418px;top:922px;font-size:5.5px;color:#555">答疑时间</div>
<div class="tx" style="left:418px;top:934px;font-size:4px;color:#666">工作日：18:00-21:00</div>
<div class="tx" style="left:418px;top:941px;font-size:4px;color:#666">周　六：18:00-20:00</div>

<!-- black marker 3 -->
<div class="abs" style="left:388px;top:843px;width:94px;height:114px;box-sizing:border-box;border:3px solid #000;border-radius:28px"></div>

<!-- step 5 -->
<div class="step" style="left:598px;top:884px;letter-spacing:2.5px">5.练习过程中如有问题，</div>
<div class="step" style="left:619px;top:909px;letter-spacing:1.8px">请戳页面右边对应赛项【客服】</div>

<!-- arrows -->
<svg class="abs" style="left:0;top:0" width="1000" height="1080">
<g fill="#c40000" stroke="#c40000" stroke-width="3" stroke-linejoin="round">
<path d="M442,182.5 H507 V167.5 L546,194.5 L507,221.5 V205.5 H442 Z"/>
<path d="M949.5,286.5 V341 H933.5 L961,373 L988.5,341 H971.5 V286.5 Z"/>
<path d="M445,623 L473,595.5 V611.5 H522.5 V633.5 H473 V650.5 Z"/>
<path d="M177.5,706.5 V760 H161.5 L189,794 L216.5,760 H200.5 V706.5 Z"/>
</g>
</svg>

</body></html>
